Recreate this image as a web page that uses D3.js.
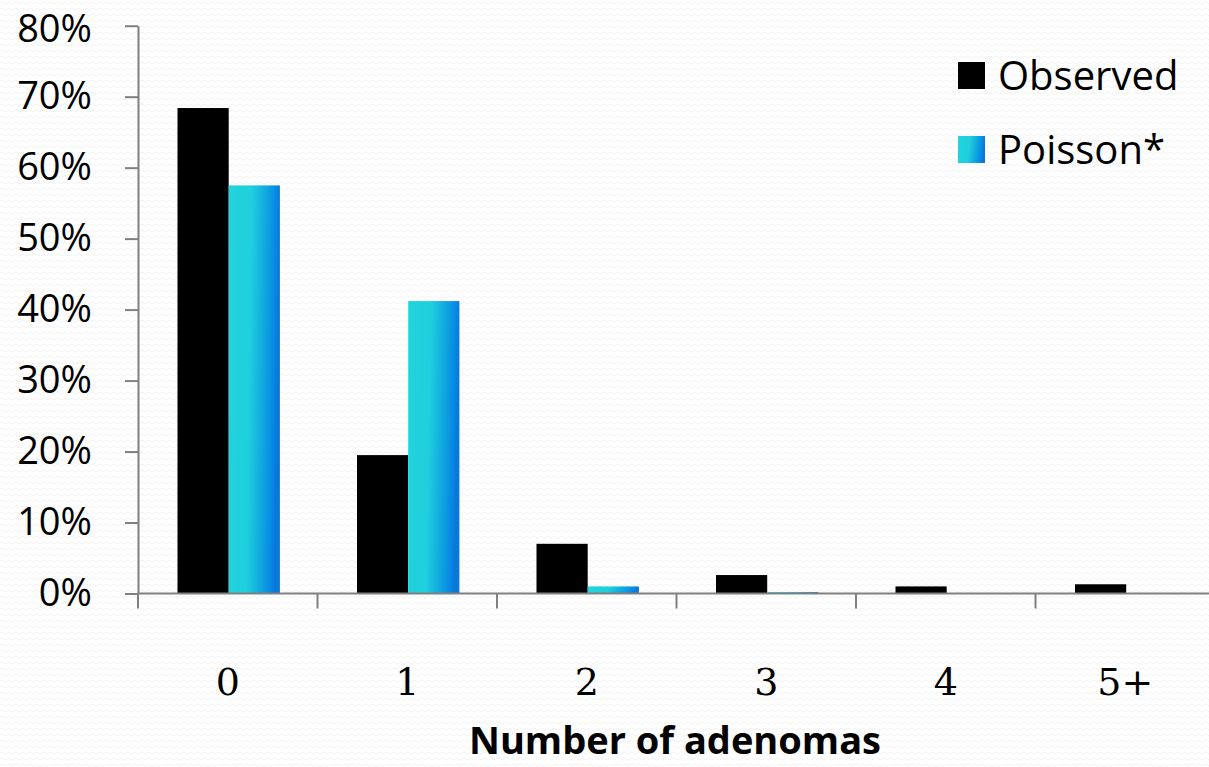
<!DOCTYPE html>
<html>
<head>
<meta charset="utf-8">
<script src="https://cdn.jsdelivr.net/npm/d3@7"></script>
<style>
  html, body { margin: 0; padding: 0; background: #ffffff; }
  svg { display: block; }
</style>
</head>
<body>
<svg id="chart" width="1209" height="767"></svg>
<script>
// Share of patients by number of adenomas found
const categories = ["0", "1", "2", "3", "4", "5+"];
const seriesNames = ["Observed", "Poisson*"];
const observed = [68.4, 19.5, 7.0, 2.6, 1.0, 1.3];
const poisson  = [57.5, 41.2, 1.0, 0.2, 0, 0];
const yTicks = [0, 10, 20, 30, 40, 50, 60, 70, 80];
const xTitle = "Number of adenomas";

const W = 1209, H = 767;
const margin = { left: 138, right: -6, top: 25.7, bottom: 173.5 };

const svg = d3.select("#chart");
const defs = svg.append("defs");

// faint woven backdrop
const pat = defs.append("pattern")
  .attr("id", "weave").attr("patternUnits", "userSpaceOnUse")
  .attr("width", 7).attr("height", 6);
pat.append("path")
  .attr("d", "M0,3 Q1.75,0.8 3.5,3 T7,3")
  .attr("fill", "none").attr("stroke", "#ededed").attr("stroke-width", 1);
svg.append("rect").attr("width", W).attr("height", H).attr("fill", "#fff");
svg.append("rect").attr("width", W).attr("height", H).attr("fill", "url(#weave)").attr("opacity", 0.8);

// cyan-to-blue sheen for the Poisson bars
const grad = defs.append("linearGradient")
  .attr("id", "poissonFill")
  .attr("x1", 0).attr("y1", 0).attr("x2", 1).attr("y2", 0.12);
[[0, "#22d4dd"], [0.45, "#1fcfdd"], [0.72, "#10a8df"], [0.92, "#0788e4"], [1, "#0a78d8"]]
  .forEach(([o, c]) => grad.append("stop").attr("offset", o).attr("stop-color", c));

const x0 = d3.scaleBand()
  .domain(categories)
  .range([margin.left, W - margin.right])
  .paddingInner(0)
  .paddingOuter(0);

const x1 = d3.scaleBand()
  .domain(seriesNames)
  .range([39.5, 39.5 + 102.4]);

const y = d3.scaleLinear()
  .domain([0, 80])
  .range([H - margin.bottom, margin.top]);

const fills = { "Observed": "#000000", "Poisson*": "url(#poissonFill)" };

const rows = categories.map((c, i) => ({
  cat: c,
  values: [
    { key: "Observed", v: observed[i] },
    { key: "Poisson*", v: poisson[i] }
  ]
}));

// bars
const groups = svg.append("g").selectAll("g")
  .data(rows).join("g")
  .attr("transform", d => `translate(${x0(d.cat)},0)`);

groups.selectAll("rect")
  .data(d => d.values.filter(e => e.v > 0))
  .join("rect")
  .attr("x", d => x1(d.key))
  .attr("width", x1.bandwidth())
  .attr("y", d => y(d.v))
  .attr("height", d => y(0) - y(d.v))
  .attr("fill", d => fills[d.key]);

// y axis
const yAxis = svg.append("g")
  .attr("transform", `translate(${margin.left},0)`)
  .call(d3.axisLeft(y).tickValues(yTicks).tickFormat(d => d + "%").tickSizeInner(13).tickSizeOuter(0).tickPadding(33));
yAxis.select(".domain").attr("stroke", "#808080").attr("stroke-width", 2);
yAxis.selectAll(".tick line").attr("stroke", "#808080").attr("stroke-width", 2);
yAxis.selectAll(".tick text")
  .attr("font-family", "'Open Sans', 'Noto Sans', sans-serif")
  .attr("font-size", 38)
  .attr("fill", "#000");
// keep the top label inside the frame
yAxis.selectAll(".tick text").filter(d => d === 80).attr("dy", "0.42em");

// x axis: ticks sit on category boundaries
const xBase = y(0);
const axisG = svg.append("g");
axisG.append("line")
  .attr("x1", margin.left).attr("x2", W)
  .attr("y1", xBase).attr("y2", xBase)
  .attr("stroke", "#808080").attr("stroke-width", 2);
const bounds = categories.map(c => x0(c));
axisG.selectAll("line.tk").data(bounds).join("line")
  .attr("class", "tk")
  .attr("x1", d => d).attr("x2", d => d)
  .attr("y1", xBase).attr("y2", xBase + 15)
  .attr("stroke", "#808080").attr("stroke-width", 2);

svg.append("g").selectAll("text")
  .data(categories).join("text")
  .attr("x", d => x0(d) + x0.bandwidth() / 2)
  .attr("y", 695)
  .attr("text-anchor", "middle")
  .attr("font-family", "'DejaVu Serif', 'Liberation Serif', serif")
  .attr("font-size", 38)
  .attr("fill", "#000")
  .text(d => d);

svg.append("text")
  .attr("x", 675)
  .attr("y", 754)
  .attr("text-anchor", "middle")
  .attr("font-family", "'Open Sans', 'Noto Sans', sans-serif")
  .attr("font-weight", "bold")
  .attr("font-size", 38)
  .attr("fill", "#000")
  .text(xTitle);

// legend
const legend = svg.append("g").attr("transform", "translate(958,62)");
const items = legend.selectAll("g").data(seriesNames).join("g")
  .attr("transform", (d, i) => `translate(0,${i * 74})`);
items.append("rect")
  .attr("width", 27).attr("height", 27)
  .attr("fill", d => fills[d]);
items.append("text")
  .attr("x", 40).attr("y", 28)
  .attr("font-family", "'Open Sans', 'Noto Sans', sans-serif")
  .attr("font-size", 40)
  .attr("fill", "#000")
  .text(d => d);
</script>
</body>
</html>
